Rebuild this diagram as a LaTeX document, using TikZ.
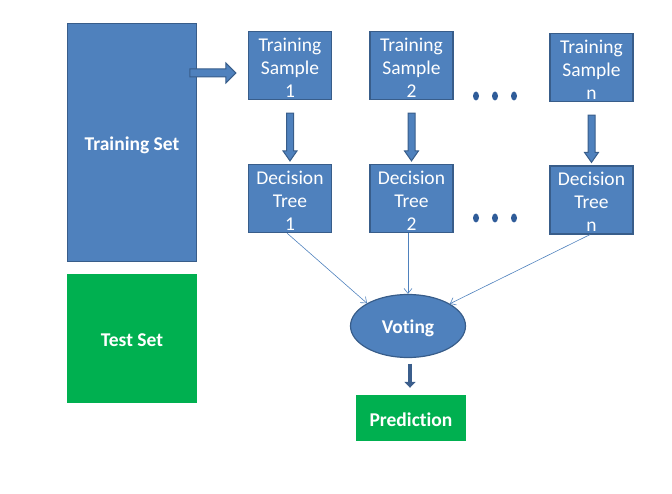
\documentclass[tikz,border=0pt]{standalone}
\usepackage{fontspec}
\setmainfont{Carlito}[Ligatures=NoCommon]
\usetikzlibrary{shapes.geometric,calc,arrows.meta}
\definecolor{fillb}{HTML}{4F81BD}
\definecolor{edgeb}{HTML}{385D8A}
\definecolor{greenb}{HTML}{00B050}
\definecolor{dotb}{HTML}{2F5C99}
\definecolor{darkarr}{HTML}{3B5E8C}
\newcommand\mystrutML{\rule{0pt}{17.5pt}}
\newcommand\mystrutS[1]{\rule[-5pt]{0pt}{#1}}
\begin{document}
\begin{tikzpicture}[x=1pt,y=-1pt,
  box/.style={draw=edgeb, line width=1.2pt, fill=fillb, text=white, align=center,
    inner sep=0pt, font=\fontsize{19.5}{23}\selectfont, minimum width=83pt, minimum height=68pt},
  bigbox/.style={draw=edgeb, line width=1.2pt, fill=fillb, text=white, align=center,
    inner sep=0pt, font=\fontsize{19.5}{23}\selectfont\bfseries, minimum width=129pt, minimum height=238pt},
  greenbox/.style={fill=greenb, text=white, align=center, inner sep=0pt,
    font=\fontsize{19.5}{23}\selectfont\bfseries},
  thinarr/.style={draw=fillb, line width=0.6pt, -{Straight Barb[length=5pt,width=8pt]}},
  blockarr/.style={draw=edgeb, line width=1pt, fill=fillb, line join=miter},
  dot/.style={fill=dotb}
]
\useasboundingbox (0,0) rectangle (672,494);

\node[bigbox] (tset) at (132,142.5) {\mystrutS{26.5pt}Training Set};
\node[greenbox, minimum width=130pt, minimum height=129pt] (test) at (132,338.5) {\mystrutS{26.5pt}Test Set};

\node[box] (ts1) at (290,65.5) {\mystrutML Training\\Sample\\1};
\node[box] (ts2) at (411.5,65.5) {\mystrutML Training\\Sample\\2};
\node[box] (tsn) at (591.5,67.5) {\mystrutML Training\\Sample\\n};

\node[box] (dt1) at (290,198.5) {\mystrutML Decision\\Tree\\1};
\node[box] (dt2) at (411.5,198.5) {\mystrutML Decision\\Tree\\2};
\node[box] (dtn) at (591.5,200) {\mystrutML Decision\\Tree\\n};

\node[ellipse, draw=edgeb, line width=1.2pt, fill=fillb, text=white, inner sep=0pt,
  minimum width=115pt, minimum height=63pt, font=\fontsize{19.5}{23}\selectfont\bfseries] (vote) at (408,326) {\mystrutS{25.5pt}Voting};

\node[greenbox, minimum width=110pt, minimum height=46pt] (pred) at (411,418) {\mystrutS{27.5pt}Prediction};

% dots
\foreach \dx in {476,495,514} {
  \fill[dot] (\dx,96) ellipse [x radius=3pt, y radius=4.5pt];
  \fill[dot] (\dx,218) ellipse [x radius=3pt, y radius=4.5pt];
}

% block arrow training set -> sample 1
\draw[blockarr] ($(ts1.west)+(-58,3.5)$)
  -- ++(36,0) -- ++(0,-6) -- ($(ts1.west)+(-12,7.5)$) -- ++(-10,10) -- ++(0,-6) -- ++(-36,0) -- cycle;

% down block arrows
\foreach \s/\d in {ts1/dt1,ts2/dt2,tsn/dtn} {
  \draw[blockarr] ($(\s.south)+(-3.5,13)$) -- ($(\d.north)+(-3.5,-13)$) -- ++(-3.5,0)
    -- ($(\d.north)+(0,-3)$) -- ($(\d.north)+(7,-13)$) -- ++(-3.5,0) -- ($(\s.south)+(3.5,13)$) -- cycle;
}

% thin arrows
\draw[thinarr] ([xshift=-3pt]dt1.south) -- (vote.151);
\draw[thinarr] ([xshift=-3.5pt]dt2.south) -- (vote.north);
\draw[thinarr] ([xshift=-1.5pt]dtn.south) -- (vote.28);

% voting -> prediction
\draw[darkarr, line width=4pt, -{Triangle[length=6pt,width=11pt]}] ([xshift=2pt,yshift=-5.5pt]vote.south) -- ([xshift=-1pt,yshift=7pt]pred.north);
\end{tikzpicture}
\end{document}
